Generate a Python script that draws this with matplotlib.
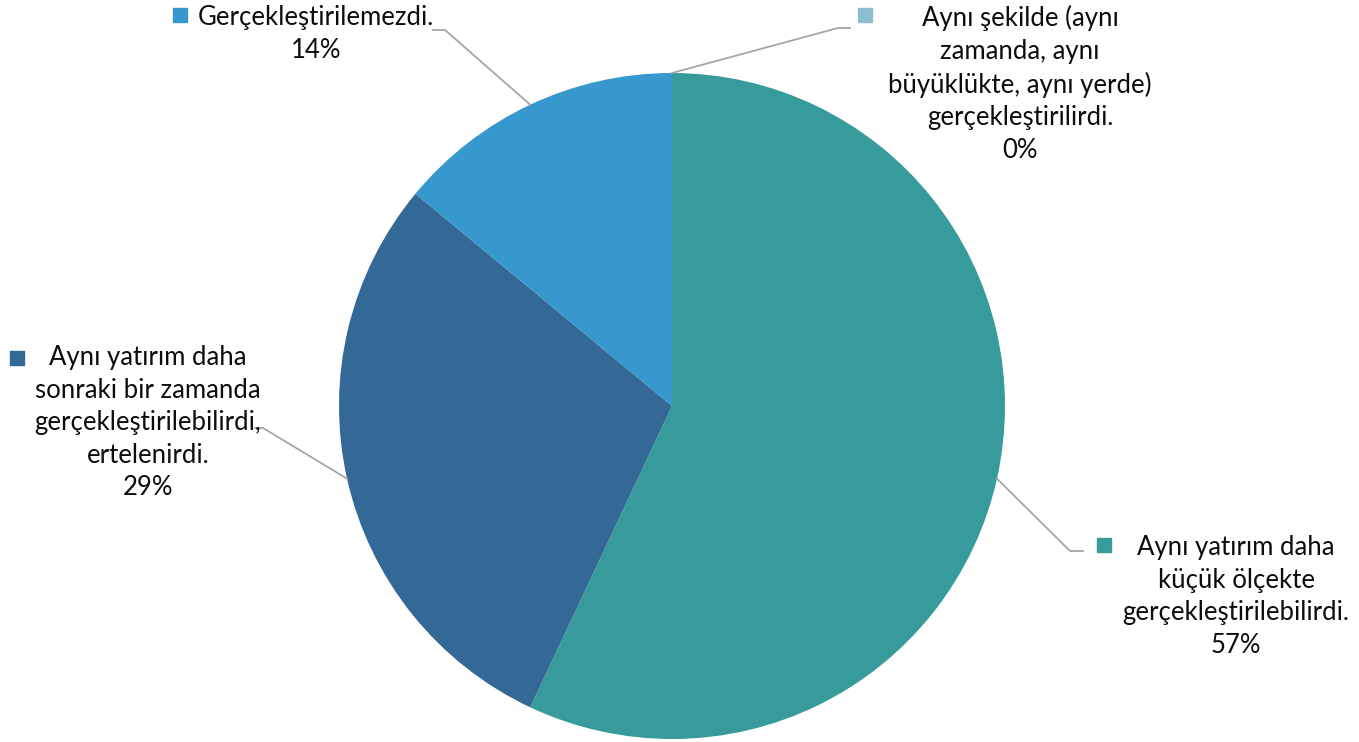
import numpy as np
import matplotlib
matplotlib.use('Agg')
import matplotlib.pyplot as plt

plt.rcParams['font.family'] = ['Lato', 'DejaVu Sans']

labels = ["Aynı şekilde (aynı\nzamanda, aynı\nbüyüklükte, aynı yerde)\ngerçekleştirilirdi.",
          "Aynı yatırım daha\nküçük ölçekte\ngerçekleştirilebilirdi.",
          "Aynı yatırım daha\nsonraki bir zamanda\ngerçekleştirilebilirdi,\nertelenirdi.",
          "Gerçekleştirilemezdi."]
values = [0, 57, 29, 14]
colors = ['#8DBFD0', '#369B9A', '#346897', '#3698CC']

# layout in pixels (y measured from top of the image)
W, H = 1359, 742
cx, cy, R = 672, 406, 333
text_pos = [(1020, 5), (1236, 535), (148, 345), (316, 5)]   # centre/top of text block
square_pos = [(865, 15), (1104, 545), (17, 358), (180, 15)]
elbows = [[(838, 28), (850, 28)], [(1070, 551), (1083, 551)],
          [(263, 428), (255, 428)], [(445, 30), (433, 30)]]

fig = plt.figure(figsize=(W / 100, H / 100), dpi=100)
ax = fig.add_axes([0, 0, 1, 1])
ax.set_xlim(0, W)
ax.set_ylim(0, H)
ax.set_aspect('equal')
ax.axis('off')

wedges, _ = ax.pie(values, colors=colors, startangle=90, counterclock=False,
                   center=(cx, H - cy), radius=R, wedgeprops=dict(linewidth=0))
ax.set_xlim(0, W)
ax.set_ylim(0, H)

total = sum(values)
start = 0
for i, v in enumerate(values):
    mid = (start + v / 2) / total * 2 * np.pi
    start += v
    x0 = cx + R * np.sin(mid)
    y0 = cy - R * np.cos(mid)
    pts = [(x0, y0)] + elbows[i]
    ax.plot([p[0] for p in pts], [H - p[1] for p in pts], color='#A6A6A6', lw=1.3)
    pct = f"{v / total * 100:.0f}%"
    tx, ty = text_pos[i]
    ax.text(tx, H - ty, labels[i] + "\n" + pct, ha='center', va='top',
            fontsize=18.5, linespacing=1.38, color='#0d0d0d')
    sx, sy = square_pos[i]
    ax.plot(sx, H - sy, marker='s', markersize=10, color=colors[i], linestyle='none')

fig.savefig('out.png', dpi=100)
